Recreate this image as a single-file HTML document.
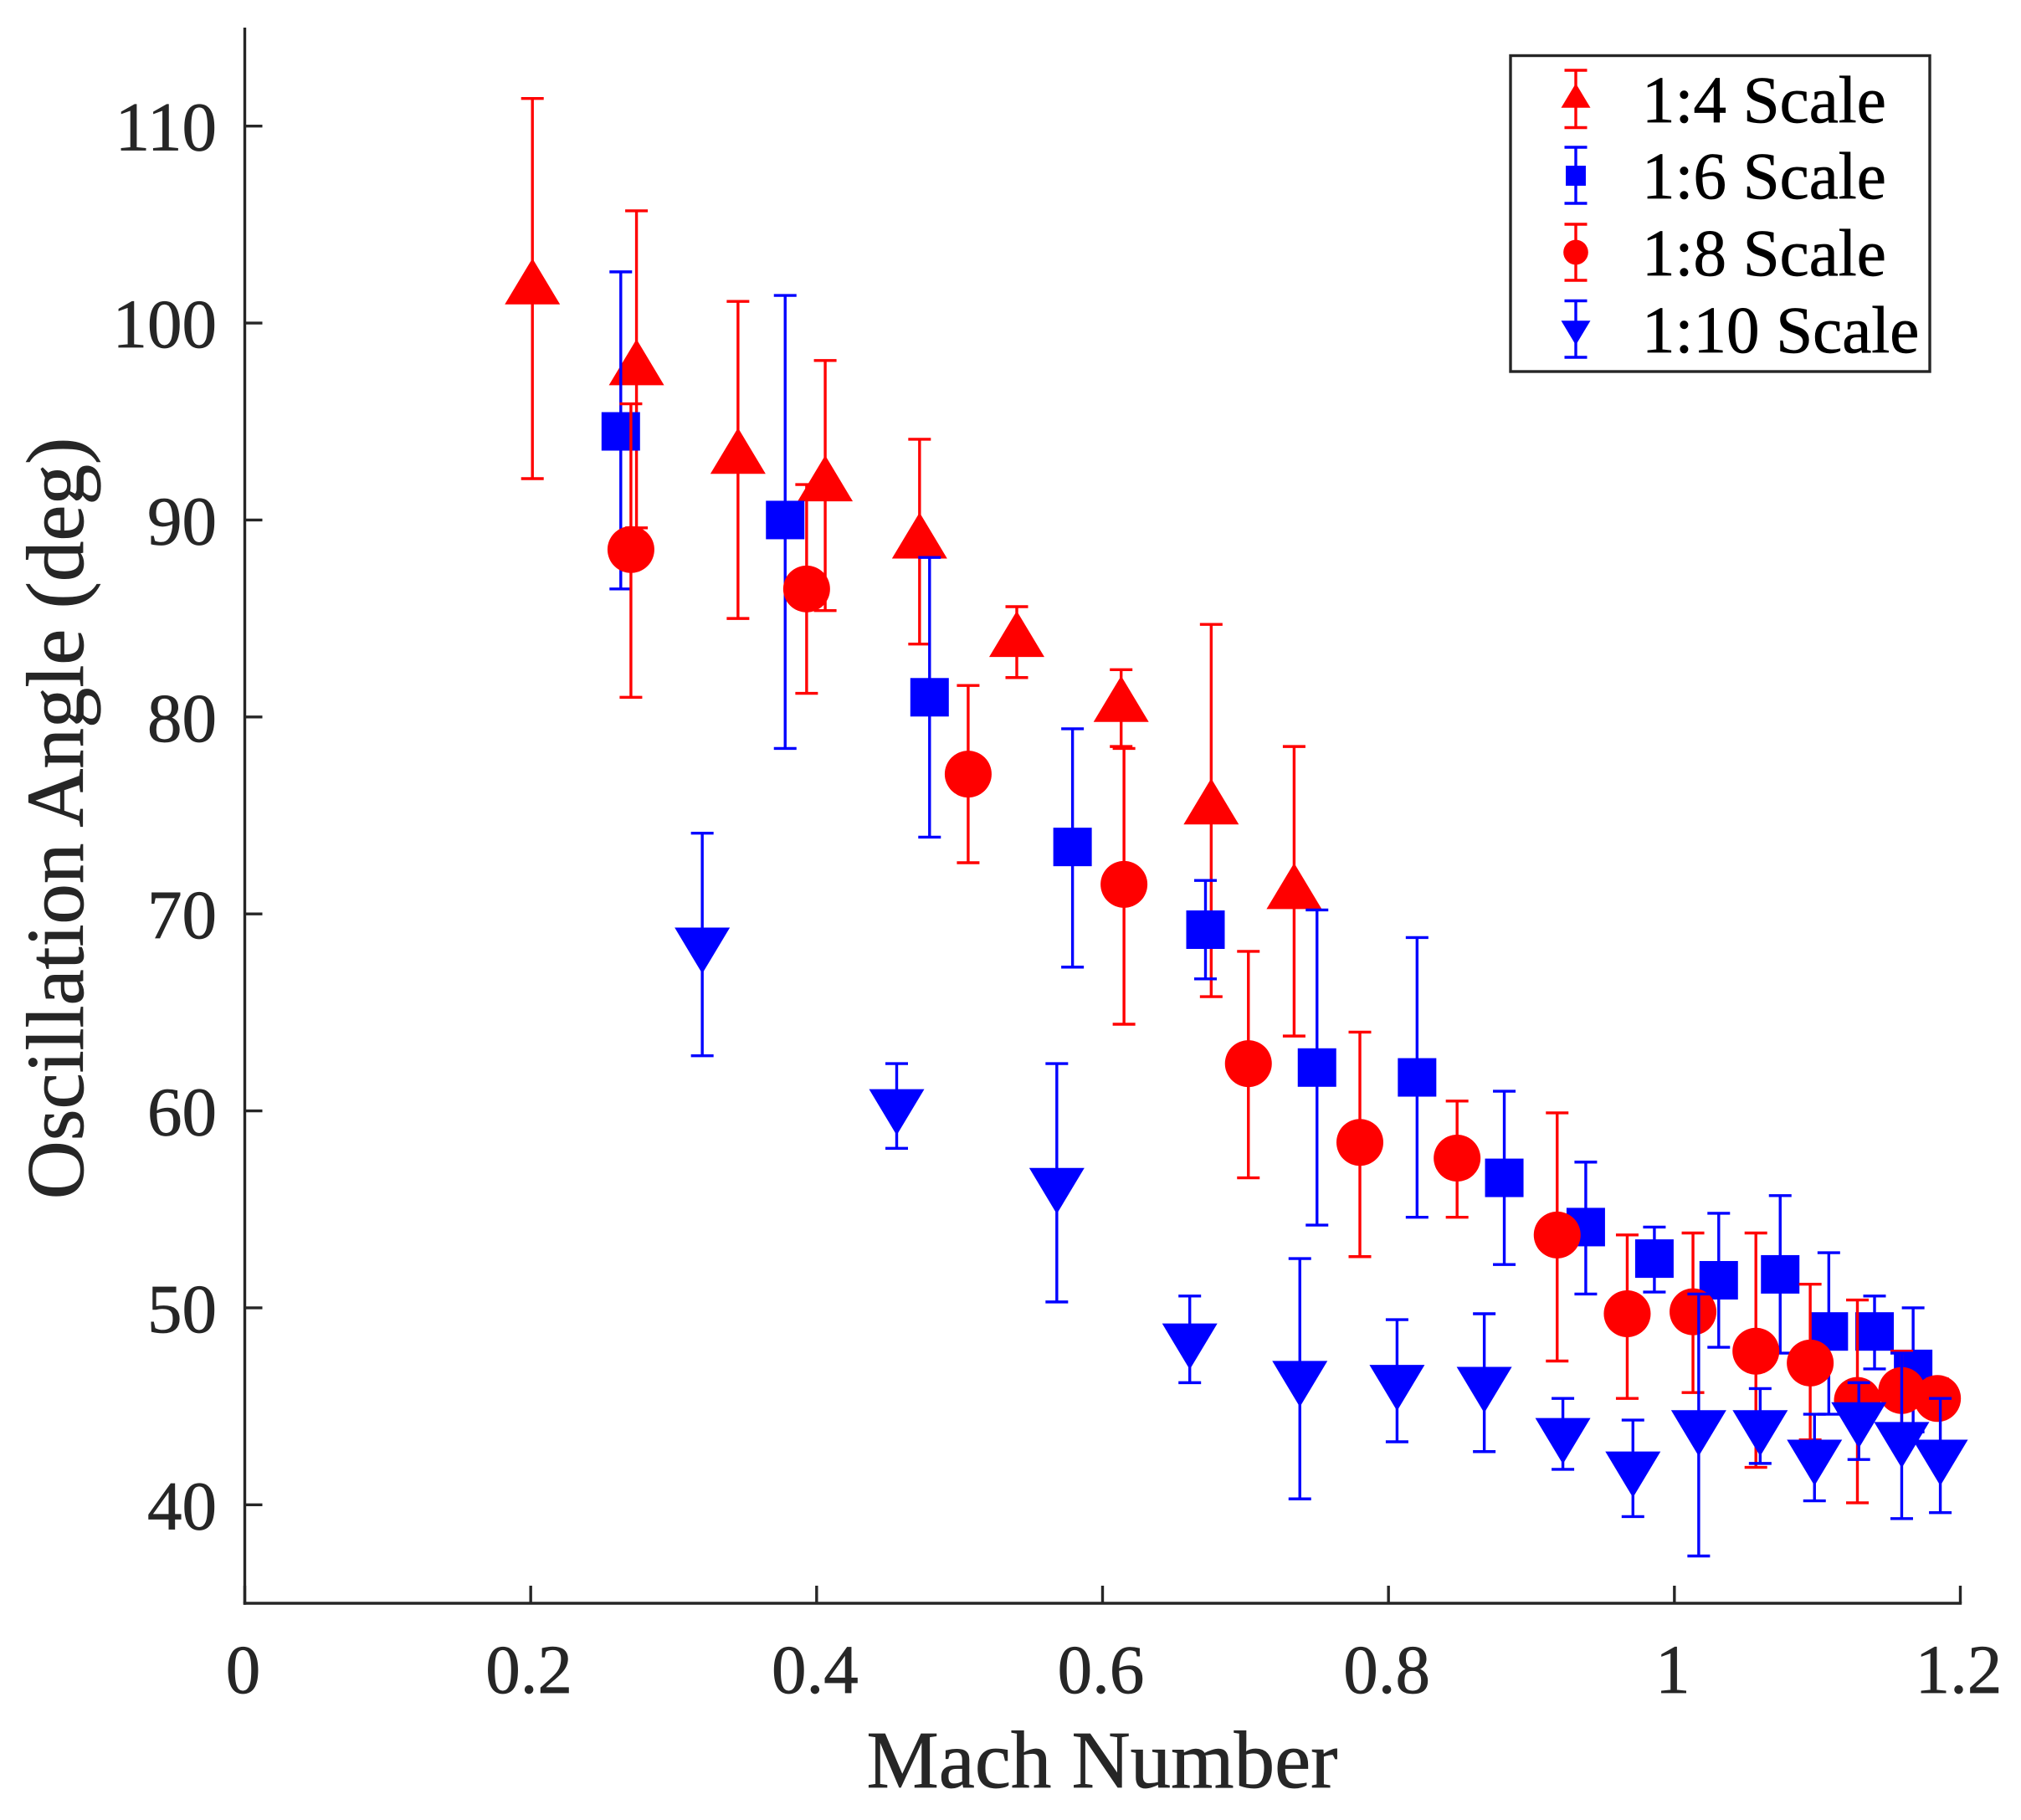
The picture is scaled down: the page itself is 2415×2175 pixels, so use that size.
<!DOCTYPE html>
<html lang="en">
<head>
<meta charset="utf-8">
<title>Oscillation Angle vs Mach Number</title>
<style>
html,body{margin:0;padding:0;background:#fff;width:2415px;height:2175px;overflow:hidden}
svg{display:block}
text{font-family:"Liberation Serif",serif;stroke-width:0.7px;paint-order:stroke}
</style>
</head>
<body>
<svg id="chart" xmlns="http://www.w3.org/2000/svg" width="2415" height="2175" viewBox="0 0 2415 2175"></svg>
<script>
const xTickLabels = ["0","0.2","0.4","0.6","0.8","1","1.2"];
const xTicks = [0,0.2,0.4,0.6,0.8,1,1.2];
const yTicks = [40,50,60,70,80,90,100,110];
const xLimits = [0,1.2];
const yLimits = [35,115];

const scale4Mach = [0.2012,0.274,0.345,0.406,0.472,0.54,0.613,0.676,0.734];
const scale4Angle = [102.05,97.95,93.45,92.05,89.15,84.15,80.85,75.65,71.35];
const scale4Upper = [111.4,105.7,101.1,98.1,94.1,85.6,82.4,84.7,78.5];
const scale4Lower = [92.1,89.6,85,85.4,83.7,82,78.5,65.8,63.8];

const scale6Mach = [0.263,0.378,0.479,0.579,0.672,0.75,0.82,0.881,0.938,0.986,1.031,1.074,1.108,1.14,1.167];
const scale6Angle = [94.5,90,81,73.4,69.2,62.2,61.7,56.6,54.1,52.5,51.4,51.7,48.8,48.8,46.9];
const scale6Upper = [102.6,101.4,88.1,79.4,71.7,70.2,68.8,61,57.4,54.1,54.8,55.7,52.8,50.6,50];
const scale6Lower = [86.5,78.4,73.9,67.3,66.7,54.2,54.6,52.2,50.7,50.8,48,47.7,44.6,46.9,43.7];

const scale8Mach = [0.2701,0.393,0.506,0.615,0.702,0.78,0.848,0.918,0.967,1.013,1.057,1.095,1.128,1.159,1.184];
const scale8Angle = [88.5,86.5,77.1,71.5,62.4,58.4,57.6,53.7,49.7,49.8,47.8,47.2,45.3,45.8,45.4];
const scale8Upper = [95.9,91.8,81.6,78.4,68.1,64,60.5,59.9,53.7,53.8,53.8,51.2,50.4,47.8,46.4];
const scale8Lower = [81,81.2,72.6,64.4,56.6,52.6,54.6,47.3,45.4,45.7,41.9,43.3,40.1,43.7,44.6];

const scale10Mach = [0.32,0.456,0.568,0.661,0.738,0.806,0.867,0.922,0.971,1.017,1.06,1.098,1.129,1.159,1.186];
const scale10Angle = [68.2,60,56,48.1,46.2,46,45.9,43.3,41.6,43.7,43.7,42.2,44.1,43.1,42.2];
const scale10Upper = [74.1,62.4,62.4,50.6,52.5,49.4,49.7,45.4,44.3,50.7,45.9,44.6,46.2,47.7,45.4];
const scale10Lower = [62.8,58.1,50.3,46.2,40.3,43.2,42.7,41.8,39.4,37.4,42.1,40.2,42.3,39.3,39.6];

const legendLabels = ["1:4 Scale","1:6 Scale","1:8 Scale","1:10 Scale"];

const NS = "http://www.w3.org/2000/svg";
const svg = document.getElementById("chart");
const plot = {left:292.5, right:2342.5, top:33, bottom:1916};
const AXIS = "#262626";
const RED = "#ff0000";
const BLUE = "#0000ff";
const LINE = 3.4;

function sx(v){ return plot.left + (v - xLimits[0]) / (xLimits[1] - xLimits[0]) * (plot.right - plot.left); }
function sy(v){ return plot.bottom - (v - yLimits[0]) / (yLimits[1] - yLimits[0]) * (plot.bottom - plot.top); }

function make(tag, attrs, parent){
  const el = document.createElementNS(NS, tag);
  for (const k in attrs) el.setAttribute(k, attrs[k]);
  (parent || svg).appendChild(el);
  return el;
}

function drawMarker(g, shape, color, cx, cy, size){
  if (shape === "up") {
    return make("polygon", {points:`${cx},${cy-29*size} ${cx-33*size},${cy+26*size} ${cx+33*size},${cy+26*size}`, fill:color}, g);
  }
  if (shape === "down") {
    return make("polygon", {points:`${cx},${cy+29*size} ${cx-33*size},${cy-26*size} ${cx+33*size},${cy-26*size}`, fill:color}, g);
  }
  if (shape === "square") {
    return make("rect", {x:cx-23*size, y:cy-23*size, width:46*size, height:46*size, fill:color}, g);
  }
  return make("circle", {cx:cx, cy:cy, r:28*size, fill:color}, g);
}

function drawErrorBar(g, color, cx, yUp, yLow, capHalf){
  const stem = make("line", {x1:cx, x2:cx, y1:yUp, y2:yLow, stroke:color, "stroke-width":LINE}, g);
  
  
  const capTop = make("line", {x1:cx-capHalf, x2:cx+capHalf, y1:yUp, y2:yUp, stroke:color, "stroke-width":LINE}, g);
  
  
  const capLow = make("line", {x1:cx-capHalf, x2:cx+capHalf, y1:yLow, y2:yLow, stroke:color, "stroke-width":LINE}, g);
  
  
}

function drawSeries(name, shape, color, mach, angle, upper, lower){
  const g = make("g", {});
  
  
  mach.forEach((m, i) => {
    drawErrorBar(g, color, sx(m), sy(upper[i]), sy(lower[i]), 13.5);
  });
  mach.forEach((m, i) => {
    const mark = drawMarker(g, shape, color, sx(m), sy(angle[i]), 1);
    
    
  });
}

function drawAxes(){
  const g = make("g", {});
  
  
  const yAxis = make("line", {x1:plot.left, x2:plot.left, y1:plot.top, y2:plot.bottom+1.7, stroke:AXIS, "stroke-width":LINE}, g);
  
  
  const xAxis = make("line", {x1:plot.left-1.7, x2:plot.right+1.7, y1:plot.bottom, y2:plot.bottom, stroke:AXIS, "stroke-width":LINE}, g);
  
  

  xTicks.forEach((t, i) => {
    const x = sx(t);
    const tick = make("line", {x1:x, x2:x, y1:plot.bottom, y2:plot.bottom-21, stroke:AXIS, "stroke-width":LINE}, g);
    
    
    const label = make("text", {x:x-2, y:2023, "text-anchor":"middle", "font-size":83, fill:AXIS, stroke:AXIS}, g);
    
    
    label.textContent = xTickLabels[i];
  });

  yTicks.forEach(t => {
    const y = sy(t);
    const tick = make("line", {x1:plot.left, x2:plot.left+21, y1:y, y2:y, stroke:AXIS, "stroke-width":LINE}, g);
    
    
    const label = make("text", {x:259, y:y+29, "text-anchor":"end", "font-size":83, fill:AXIS, stroke:AXIS}, g);
    
    
    label.textContent = String(t);
  });

  const xTitle = make("text", {x:1317, y:2136, "text-anchor":"middle", "font-size":97, fill:AXIS, stroke:AXIS}, g);
  
  
  xTitle.textContent = "Mach Number";

  const yTitle = make("text", {x:0, y:0, "text-anchor":"middle", "font-size":97, fill:AXIS, stroke:AXIS, transform:"translate(99 978) rotate(-90)"}, g);
  
  
  yTitle.textContent = "Oscillation Angle (deg)";
}

function drawLegend(){
  const g = make("g", {});
  
  
  const box = make("rect", {x:1805, y:66.5, width:501, height:377.5, fill:"#fff", stroke:AXIS, "stroke-width":LINE}, g);
  
  
  const shapes = ["up","square","circle","down"];
  const colors = [RED,BLUE,RED,BLUE];
  const sizes = [0.53,0.52,0.53,0.53];
  const caps = [[84,152.5],[176,243],[268,335],[359.5,427]];
  const markerY = [115,210,301.5,397];
  const baselines = [146,237,329,421];
  legendLabels.forEach((text, i) => {
    const row = make("g", {}, g);
    
    
    drawErrorBar(row, colors[i], 1883, caps[i][0], caps[i][1], 13.5);
    drawMarker(row, shapes[i], colors[i], 1883, markerY[i], sizes[i]);
    const label = make("text", {x:1962, y:baselines[i], "font-size":79, fill:"#000", stroke:"#000"}, row);
    
    
    label.textContent = text;
  });
}

drawAxes();
drawSeries("series-1-4-scale", "up", RED, scale4Mach, scale4Angle, scale4Upper, scale4Lower);
drawSeries("series-1-6-scale", "square", BLUE, scale6Mach, scale6Angle, scale6Upper, scale6Lower);
drawSeries("series-1-8-scale", "circle", RED, scale8Mach, scale8Angle, scale8Upper, scale8Lower);
drawSeries("series-1-10-scale", "down", BLUE, scale10Mach, scale10Angle, scale10Upper, scale10Lower);
drawLegend();
</script>
</body>
</html>
